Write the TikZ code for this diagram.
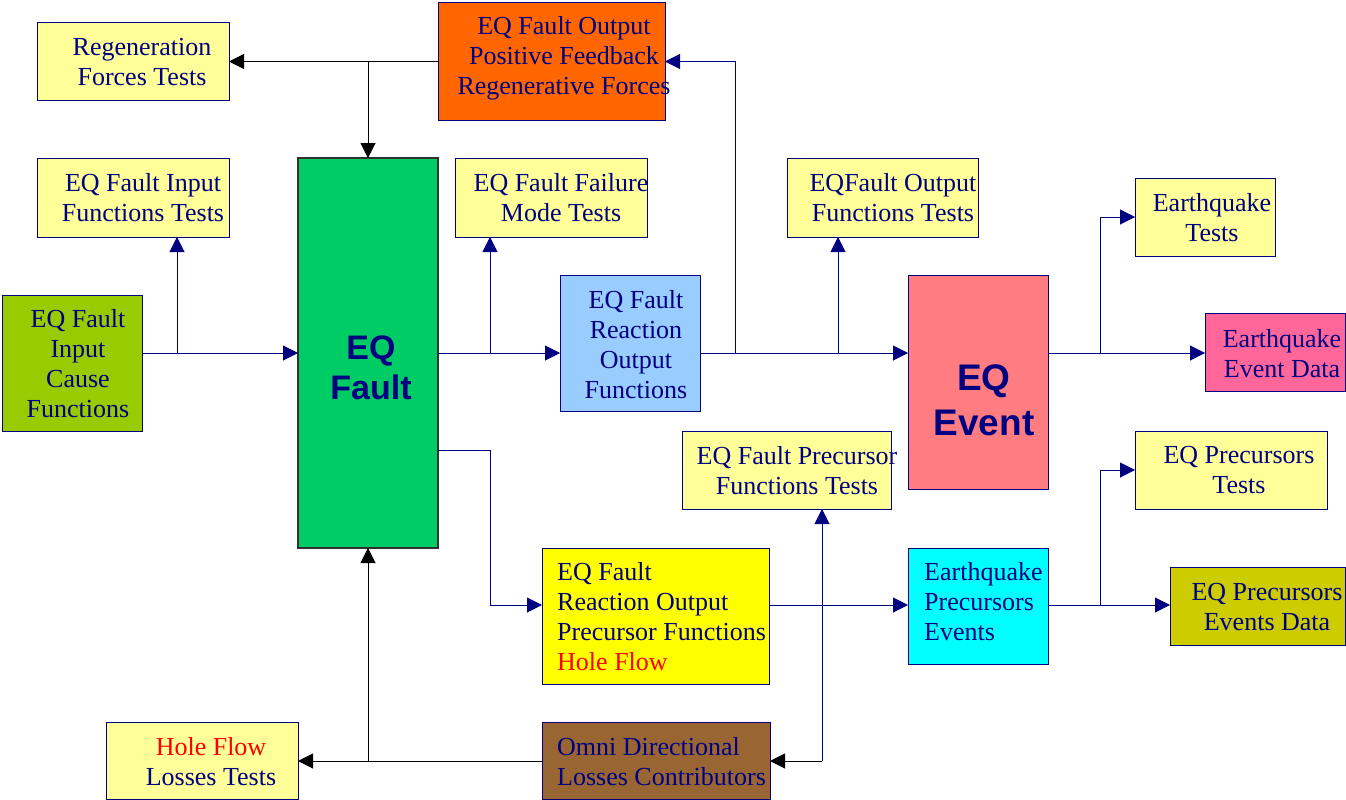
\documentclass[tikz,border=0pt]{standalone}
\usepackage{fontspec}
\setmainfont{Liberation Serif}
\newfontfamily\bsans{Liberation Sans}
\usetikzlibrary{arrows.meta}
\definecolor{nv}{HTML}{000080}
\definecolor{ltyel}{HTML}{FFFF99}
\definecolor{orng}{HTML}{FF6600}
\definecolor{grn}{HTML}{00CC66}
\definecolor{ltblue}{HTML}{99CCFF}
\definecolor{salmon}{HTML}{FF7C80}
\definecolor{pinkr}{HTML}{FF6699}
\definecolor{lime}{HTML}{99CC00}
\definecolor{yel}{HTML}{FFFF00}
\definecolor{cyn}{HTML}{00FFFF}
\definecolor{olive}{HTML}{CCCC00}
\definecolor{brwn}{HTML}{996633}
\definecolor{dgray}{HTML}{303030}
\begin{document}
\begin{tikzpicture}[x=1pt,y=-1pt,
  box/.style={draw=nv,line width=1pt,inner sep=0pt,outer sep=0pt},
  lbl/.style={text=nv,inner sep=0pt,align=center,font=\fontsize{26}{30}\selectfont},
  lbll/.style={text=nv,inner sep=0pt,align=left,anchor=west,font=\fontsize{26}{30}\selectfont},
  big/.style={text=nv,inner sep=0pt,align=center},
  bl/.style={draw=nv,line width=1pt,-{Triangle[length=15pt,width=15pt]}},
  bk/.style={draw=black,line width=1pt,-{Triangle[length=15pt,width=15pt]}}]
\useasboundingbox (0,0) rectangle (1346,800);

% boxes
\node[box,fill=ltyel,minimum width=192pt,minimum height=77pt] (regen) at (133,61.5) {};
\node[box,fill=orng,minimum width=227pt,minimum height=117pt] (posfb) at (551.5,61.5) {};
\node[box,fill=ltyel,minimum width=192pt,minimum height=79pt] (intest) at (133,197.5) {};
\node[box,draw=dgray,line width=1.3pt,fill=grn,minimum width=140pt,minimum height=390pt] (fault) at (368,353) {};
\node[box,fill=ltyel,minimum width=192pt,minimum height=79pt] (failtest) at (551,197.5) {};
\node[box,fill=ltblue,minimum width=140pt,minimum height=136pt] (react) at (630,343) {};
\node[box,fill=ltyel,minimum width=191pt,minimum height=79pt] (outtest) at (882.5,197.5) {};
\node[box,fill=salmon,minimum width=140pt,minimum height=214pt] (event) at (978,382) {};
\node[box,fill=ltyel,minimum width=140pt,minimum height=78pt] (eqtest) at (1205,217) {};
\node[box,fill=pinkr,minimum width=140pt,minimum height=78pt] (eqdata) at (1275,352) {};
\node[box,fill=lime,minimum width=140pt,minimum height=136pt] (incause) at (72,363) {};
\node[box,fill=ltyel,minimum width=209pt,minimum height=78pt] (prectest) at (786.5,470) {};
\node[box,fill=ltyel,minimum width=192pt,minimum height=78pt] (eqprectest) at (1231,470) {};
\node[box,fill=yel,minimum width=227pt,minimum height=136pt] (precfun) at (655.5,616) {};
\node[box,fill=cyn,minimum width=140pt,minimum height=116pt] (precev) at (978,606) {};
\node[box,fill=olive,minimum width=175pt,minimum height=78pt] (precdata) at (1257.5,606) {};
\node[box,fill=ltyel,minimum width=192pt,minimum height=77pt] (holetest) at (202,761) {};
\node[box,fill=brwn,minimum width=228pt,minimum height=77pt] (omni) at (656,761) {};

% labels
\node[lbl] (tregen) at (142,62) {Regeneration\\Forces Tests};
\node[lbl] (tposfb) at (564,58) {EQ Fault Output\\Positive Feedback\\Regenerative Forces};
\node[lbl] (tintest) at (143,198) {EQ Fault Input\\Functions Tests};
\node[big,font=\bsans\bfseries\fontsize{34}{40}\selectfont] (tfault) at (371,368) {EQ\\Fault};
\node[lbl] (tfailtest) at (561,198) {EQ Fault Failure\\Mode Tests};
\node[lbl] (treact) at (636,345) {EQ Fault\\Reaction\\Output\\Functions};
\node[lbl] (touttest) at (893,198) {EQFault Output\\Functions Tests};
\node[big,font=\bsans\bfseries\fontsize{37}{45}\selectfont] (tevent) at (984,400) {EQ\\Event};
\node[lbl] (teqtest) at (1212,218) {Earthquake\\Tests};
\node[lbl] (teqdata) at (1282,354) {Earthquake\\Event Data};
\node[lbl] (tincause) at (78,364) {EQ Fault\\Input\\Cause\\Functions};
\node[lbl] (tprectest) at (797,471) {EQ Fault Precursor\\Functions Tests};
\node[lbl] (teqprectest) at (1239,470) {EQ Precursors\\Tests};
\node[lbll] (tprecfun) at (557,617) {EQ Fault\\Reaction Output\\Precursor Functions\\\textcolor{red}{Hole Flow}};
\node[lbll] (tprecev) at (924,602) {Earthquake\\Precursors\\Events};
\node[lbl] (tprecdata) at (1267,607) {EQ Precursors\\Events Data};
\node[lbl] (tholetest) at (211,762) {\textcolor{red}{Hole Flow}\\Losses Tests};
\node[lbll] (tomni) at (557,762) {Omni Directional\\Losses Contributors};

% junction coordinates
\coordinate (j1) at (177,353);
\coordinate (j2) at (490,353);
\coordinate (j3) at (735,353);
\coordinate (j4) at (838,353);
\coordinate (j5) at (1100,353);
\coordinate (b1) at (490,450);
\coordinate (b2) at (490,605);
\coordinate (j7) at (1100,605);
\coordinate (c1) at (822,761);

% connectors
\draw[bk] (posfb.west) -- (regen.east);
\draw[bk] (posfb.west -| fault.north) -- (fault.north);
\draw[bl] (incause.east |- fault.west) -- (fault.west);
\draw[bl] (j1) -- (j1 |- intest.south);
\draw[bl] (fault.east) -- (fault.east -| react.west);
\draw[bl] (j2) -- (j2 |- failtest.south);
\draw[bl] (react.east |- fault.east) -- (event.west |- fault.east);
\draw[bl] (j3) |- (posfb.east);
\draw[bl] (j4) -- (j4 |- outtest.south);
\draw[bl] (event.east |- j5) -- (eqdata.west |- j5);
\draw[bl] (j5) |- (eqtest.west);
\draw[bl] (fault.east |- b1) -- (b1) -- (b2) -- (b2 -| precfun.west);
\draw[bl] (precfun.east |- b2) -- (precev.west |- b2);
\draw[bl] (precev.east |- j7) -- (precdata.west |- j7);
\draw[bl] (j7) |- (eqprectest.west);
\draw[bk] (omni.west) -- (holetest.east);
\draw[bk] (omni.west -| fault.south) -- (fault.south);
\draw[bl] (c1) -- (c1 |- prectest.south);
\draw[bk] (c1) -- (omni.east);
\end{tikzpicture}
\end{document}
